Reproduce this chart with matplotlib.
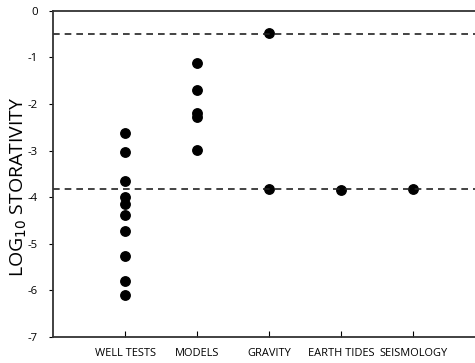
import matplotlib.pyplot as plt
import numpy as np

plt.rcParams['font.family'] = ['Open Sans', 'DejaVu Sans']

categories = ["WELL TESTS", "MODELS", "GRAVITY", "EARTH TIDES", "SEISMOLOGY"]
well_tests = [-2.62, -3.03, -3.66, -3.99, -4.14, -4.38, -4.72, -5.27, -5.80, -6.10]
models = [-1.11, -1.70, -2.20, -2.27, -2.99]
gravity = [-0.47, -3.82]
earth_tides = [-3.84]
seismology = [-3.82]
limits = [-0.49, -3.82]

groups = [well_tests, models, gravity, earth_tides, seismology]

fig = plt.figure(figsize=(4.75, 3.63), dpi=100)
ax = fig.add_axes([0.112, 0.072, 0.888, 0.898])

for i, vals in enumerate(groups):
    ax.plot(np.full(len(vals), i + 1), vals, 'o', color='black', markersize=6.8)

for h in limits:
    ax.axhline(h, color='#222222', linestyle=(0, (4, 3)), linewidth=1.2)

ax.set_xlim(0, 5.86)
ax.set_ylim(-7, 0)
ax.set_xticks(range(1, 6))
ax.set_xticklabels(categories, fontsize=7.9)
ax.set_yticks(range(-7, 1))
ax.set_yticklabels([str(v) for v in range(-7, 1)], fontsize=8.2)
ax.tick_params(axis='x', direction='in', length=4, pad=8)
ax.tick_params(axis='y', direction='out', length=3, pad=8)
ax.set_ylabel("LOG$_{10}$ STORATIVITY", fontsize=14)
ax.yaxis.set_label_coords(-0.058, 0.46)
ax.spines['right'].set_visible(False)
for s in ['left', 'bottom', 'top']:
    ax.spines[s].set_linewidth(1.3)
    ax.spines[s].set_color('#333333')

fig.savefig("out.png", dpi=100)
